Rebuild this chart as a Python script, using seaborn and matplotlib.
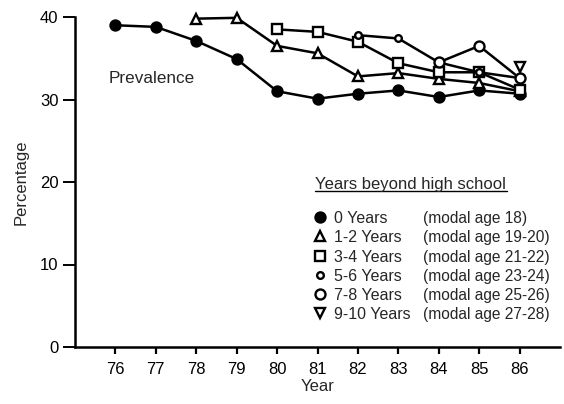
import matplotlib
matplotlib.use("Agg")
import matplotlib.pyplot as plt
import seaborn as sns
import pandas as pd
from matplotlib.lines import Line2D

years_0 = [76, 77, 78, 79, 80, 81, 82, 83, 84, 85, 86]
vals_0 = [39.0, 38.8, 37.1, 34.9, 31.0, 30.1, 30.7, 31.1, 30.3, 31.1, 30.7]
years_12 = [78, 79, 80, 81, 82, 83, 84, 85, 86]
vals_12 = [39.8, 39.9, 36.5, 35.6, 32.8, 33.2, 32.5, 32.0, 31.0]
years_34 = [80, 81, 82, 83, 84, 85, 86]
vals_34 = [38.5, 38.2, 37.0, 34.4, 33.3, 33.3, 31.2]
years_56 = [82, 83, 84, 85, 86]
vals_56 = [37.8, 37.4, 34.5, 33.3, 32.6]
years_78 = [84, 85, 86]
vals_78 = [34.5, 36.5, 32.6]
years_910 = [86]
vals_910 = [34.0]

group_labels = ["0 Years", "1-2 Years", "3-4 Years", "5-6 Years", "7-8 Years", "9-10 Years"]
modal_labels = ["(modal age 18)", "(modal age 19-20)", "(modal age 21-22)",
                "(modal age 23-24)", "(modal age 25-26)", "(modal age 27-28)"]
x_ticks = [76, 77, 78, 79, 80, 81, 82, 83, 84, 85, 86]
y_ticks = [0, 10, 20, 30, 40]

sns.set_style("ticks")
plt.rcParams['font.family'] = ['Liberation Sans', 'DejaVu Sans']

fig = plt.figure(figsize=(5.64, 4.04), dpi=100)
ax = fig.add_axes([75/564, 1-347/404, 485/564, 330/404])

series = [
    (years_0, vals_0, dict(marker='o', markersize=7.2, markerfacecolor='black')),
    (years_12, vals_12, dict(marker='^', markersize=7, markerfacecolor='white')),
    (years_34, vals_34, dict(marker='s', markersize=6.5, markerfacecolor='white')),
    (years_56, vals_56, dict(marker='o', markersize=4.8, markerfacecolor='white')),
    (years_78, vals_78, dict(marker='o', markersize=7.2, markerfacecolor='white')),
    (years_910, vals_910, dict(marker='v', markersize=6.5, markerfacecolor='white')),
]
for (xs, ys, kw), name in zip(series, group_labels):
    df = pd.DataFrame({"Year": xs, "Percentage": ys})
    sns.lineplot(data=df, x="Year", y="Percentage", ax=ax, color='black',
                 linewidth=1.8, markeredgecolor='black', markeredgewidth=1.7,
                 clip_on=False, zorder=3, **kw)

ax.set_xlim(75, 87)
ax.set_ylim(0, 40)
ax.set_xticks(x_ticks)
ax.set_xticklabels([str(t) for t in x_ticks])
ax.set_yticks(y_ticks)
sns.despine(ax=ax)
for s in ['left', 'bottom']:
    ax.spines[s].set_linewidth(1.8)
    ax.spines[s].set_color('black')
ax.tick_params(axis='x', length=5, width=1.6, pad=6, labelsize=12, colors='black')
ax.tick_params(axis='y', length=9, width=1.4, pad=3, labelsize=12, colors='black')
ax.set_xlabel("Year", fontsize=12, labelpad=1)
ax.set_ylabel("Percentage", fontsize=12, labelpad=8)

ax.text(0.07, 0.815, "Prevalence", transform=ax.transAxes, fontsize=12.3,
        va='center', ha='left')

# legend (manual)
fig.text(315/564, 1-183/404, "Years beyond high school", fontsize=12,
         va='center_baseline', ha='left')
fig.add_artist(Line2D([315/564, 507/564], [1-191/404, 1-191/404],
                      transform=fig.transFigure, color='black', linewidth=1.0))
row_y = [217, 236, 256, 275, 294, 313]
for (xs, ys, kw), lab, mod, yy in zip(series, group_labels, modal_labels, row_y):
    lk = dict(kw)
    fig.add_artist(Line2D([320/564], [1-yy/404], transform=fig.transFigure,
                          linestyle='none', color='black', markeredgecolor='black',
                          markeredgewidth=1.7, **lk))
    fig.text(334/564, 1-yy/404, lab, fontsize=11.5, va='center_baseline', ha='left')
    fig.text(423/564, 1-yy/404, mod, fontsize=11.2, va='center_baseline', ha='left')

fig.savefig("out.png", dpi=100)
